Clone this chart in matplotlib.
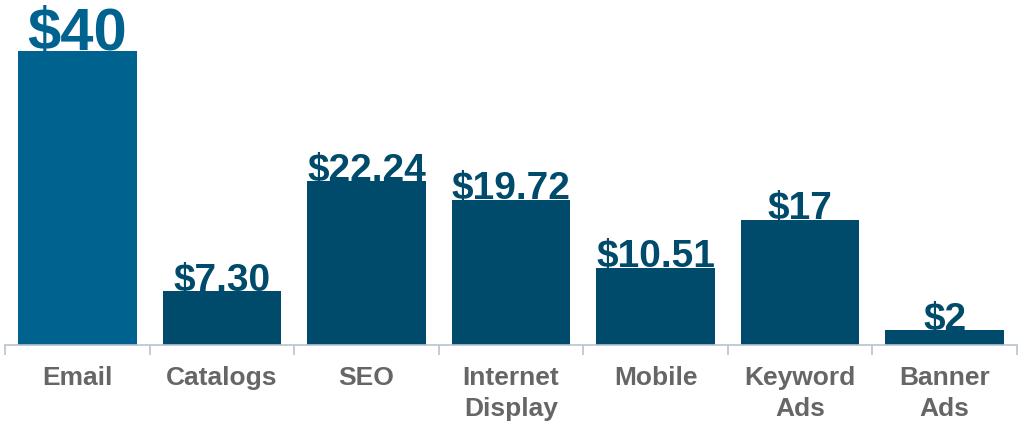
import numpy as np
import matplotlib.pyplot as plt

categories = ["Email", "Catalogs", "SEO", "Internet\nDisplay", "Mobile", "Keyword\nAds", "Banner\nAds"]
values = [40, 7.30, 22.24, 19.72, 10.51, 17, 2]
value_labels = ["$40", "$7.30", "$22.24", "$19.72", "$10.51", "$17", "$2"]

plt.rcParams['font.family'] = ['Liberation Sans', 'DejaVu Sans']

light = "#00628f"
dark = "#004a6b"
colors = [light] + [dark] * (len(values) - 1)

fig = plt.figure(figsize=(10.24, 4.26), dpi=100)
ax = fig.add_axes([0.005, 0.19, 0.988, 0.81])

x = np.arange(len(values))
ax.bar(x, values, width=0.82, color=colors, zorder=2)

for i, (v, lab) in enumerate(zip(values, value_labels)):
    size = 43 if i == 0 else 28
    ax.text(x[i], v + 0.1, lab, ha='center', va='baseline', fontsize=size,
            fontweight='bold', color=colors[i], zorder=3)

ax.set_xlim(-0.5, len(values) - 0.5)
ax.set_ylim(0, 46.9)
ax.set_yticks([])
for s in ['top', 'right', 'left']:
    ax.spines[s].set_visible(False)
ax.spines['bottom'].set_color('#b7c3cf')
ax.spines['bottom'].set_linewidth(1.2)

ax.set_xticks(x)
ax.set_xticklabels(categories, fontsize=19, fontweight='bold', color='#666666',
                   linespacing=1.35)
ax.tick_params(axis='x', which='major', length=0, pad=15)
ax.set_xticks(np.arange(len(values) + 1) - 0.5, minor=True)
ax.tick_params(axis='x', which='minor', length=7, color='#b7c3cf', width=1.2)

fig.savefig("out.png", dpi=100)
